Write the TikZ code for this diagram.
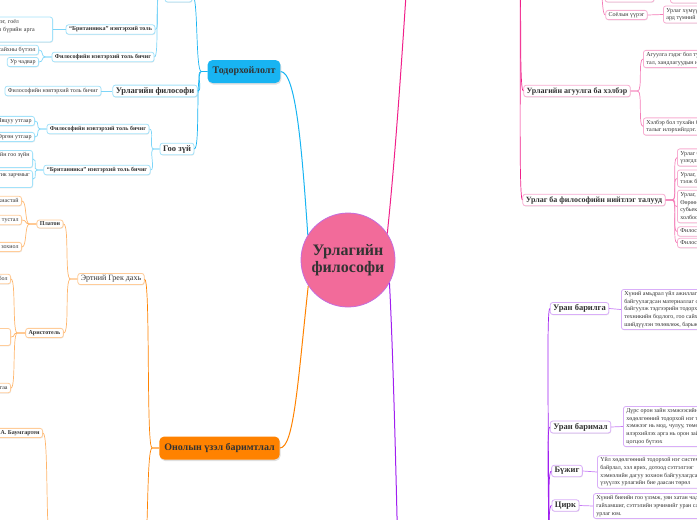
\documentclass[tikz,border=0pt]{standalone}
\usepackage{fontspec}
\setmainfont{Liberation Serif}
\usetikzlibrary{shadows}
\definecolor{testo}{HTML}{333333}
\definecolor{rosacerchio}{HTML}{F26B9A}
\definecolor{bordocerchio}{HTML}{C46BDD}
\definecolor{blu}{HTML}{18B4F2}
\definecolor{bluchiaro}{HTML}{7DD5F8}
\definecolor{blubordo}{HTML}{A3E2FA}
\definecolor{arancio}{HTML}{FF8200}
\definecolor{aranciochiaro}{HTML}{FFB56B}
\definecolor{aranciobordo}{HTML}{FFCC99}
\definecolor{rosa}{HTML}{F0208A}
\definecolor{rosachiaro}{HTML}{F47DB8}
\definecolor{rosabordo}{HTML}{F8AED2}
\definecolor{viola}{HTML}{A01EF0}
\definecolor{violachiaro}{HTML}{C77CF5}
\definecolor{violabordo}{HTML}{D9AEF8}
\tikzset{
  centro/.style={circle, fill=rosacerchio, draw=bordocerchio, line width=0.8pt, minimum size=94pt, inner sep=0pt, align=center, text=testo, font=\bfseries\fontsize{16}{17}\selectfont},
  tema/.style={fill=#1, rounded corners=5pt, minimum height=23pt, inner xsep=5pt, text=testo, font=\bfseries\fontsize{10}{12}\selectfont, drop shadow={shadow xshift=0.8pt, shadow yshift=-1.5pt, opacity=0.25}},
  scatola/.style={draw=#1, fill=white, rounded corners=2.5pt, line width=0.8pt, text=testo, inner xsep=3pt, inner ysep=2pt, drop shadow={shadow xshift=0.5pt, shadow yshift=-0.8pt, opacity=0.18}},
  grande/.style={font=\bfseries\fontsize{8.5}{10}\selectfont},
  medio/.style={font=\bfseries\fontsize{6}{7}\selectfont},
  foglia/.style={font=\fontsize{6}{7.7}\selectfont, align=left},
  legame/.style={draw=#1, line width=0.7pt},
}
\begin{document}
\begin{tikzpicture}[x=1pt,y=-1pt]
    \useasboundingbox (0,0) rectangle (697,520);
    \clip (0,0) rectangle (697,520);
    %nodo centrale
    \node[centro] (hub) at (348,260) {Урлагийн\\философи};
    %ramo blu
    \node[tema=blu] (todor) at (244,71.5) {Тодорхойлолт};
    \node[scatola=blubordo, minimum width=27pt, minimum height=14pt] (bluetop) at (178.5,-5) {};
    \node[scatola=blubordo, medio] (britA) at (110.5,29.5) {“Британника” нэвтэрхий толь};
    \node[scatola=blubordo, foglia, text width=96pt, anchor=east] (britAL) at (53,29.5) {Ур чадварын бүтээг, гоёл\\чимэглэл ба төрөл бүрийн арга\\ухаан.};
    \node[scatola=blubordo, medio] (filA) at (103,57) {Философийн нэвтэрхий толь бичиг};
    \node[scatola=blubordo, foglia, anchor=east] (filAL1) at (39,50) {Гоо сайхны бүтээл};
    \node[scatola=blubordo, foglia, anchor=east] (filAL2) at (39,62) {Ур чадвар};
    \node[scatola=blubordo, grande] (urfil) at (155,91) {Урлагийн философи};
    \node[scatola=blubordo, foglia] (urfilL) at (53,91) {Философийн нэвтэрхий толь бичиг};
    \node[scatola=blubordo, grande] (gooz) at (177,149) {Гоо зүй};
    \node[scatola=blubordo, medio] (filB) at (98,129) {Философийн нэвтэрхий толь бичиг};
    \node[scatola=blubordo, foglia, anchor=east] (filBL1) at (35,121) {Явцуу утгаар};
    \node[scatola=blubordo, foglia, anchor=east] (filBL2) at (35,137) {Өргөн утгаар};
    \node[scatola=blubordo, medio] (britB) at (97,170) {“Британника” нэвтэрхий толь бичиг};
    \node[scatola=blubordo, foglia, anchor=east] (britBL1) at (33,159) {Байгаль, урлагийн гоо зүйн\\асуудал};
    \node[scatola=blubordo, foglia, anchor=east] (britBL2) at (33,179) {Гоо зүйн критик зарчмыг\\судалдаг};
    %ramo arancio
    \node[tema=arancio] (onol) at (219.5,448) {Онолын үзэл баримтлал};
    \node[scatola=aranciobordo, font=\fontsize{8}{10}\selectfont] (ertn) at (111,279) {Эртний Грек дахь};
    \node[scatola=aranciobordo, medio] (platon) at (50,224) {Платон};
    \node[scatola=aranciobordo, foglia, anchor=east] (platL1) at (22,201) {Дууриамал шинжтэй, хиастай};
    \node[scatola=aranciobordo, foglia, anchor=east] (platL2) at (22,220) {Урлаг нь бурхны тустал};
    \node[scatola=aranciobordo, foglia, anchor=east] (platL3) at (22,247) {“Төр” зохиол};
    \node[scatola=aranciobordo, medio] (arist) at (44.5,333) {Аристотель};
    \node[scatola=aranciobordo, foglia, anchor=east] (aristL1) at (11,279) {Урлаг бол};
    \node[scatola=aranciobordo, foglia, text width=70pt, anchor=east] (aristL2) at (11,337) {Дуурайх нь\\төрөлх чанар};
    \node[scatola=aranciobordo, foglia, anchor=east] (aristL3) at (11,388) {Урлагийн ангилал ба ажиллагаа};
    \node[scatola=aranciobordo, medio, anchor=east] (baum) at (43,433) {Г.А. Баумгартен};
    \coordinate (aranB) at (143,560);
    \coordinate (baumj) at (51,545);
    %ramo rosa
    \coordinate (rosatop) at (407,-20);
    \coordinate (rosaj) at (518,-40);
    \coordinate (rosaB) at (598,-40);
    \node[scatola=rosabordo, minimum width=49pt, minimum height=14pt] (rosaT1) at (629.5,-5) {};
    \node[scatola=rosabordo, minimum width=40pt, minimum height=16pt, anchor=west] (rosaT2) at (670,-5) {};
    \node[scatola=rosabordo, foglia] (soyol) at (626.5,15) {Соёлын үүрэг};
    \node[scatola=rosabordo, foglia, anchor=west] (soyolL) at (663,14.5) {Урлаг хүмүүсийн оюун санааг\\ард түмний соёлыг хөгжүүлдэг};
    \node[scatola=rosabordo, font=\bfseries\fontsize{8}{10}\selectfont] (agu) at (577,91) {Урлагийн агуулга ба хэлбэр};
    \node[scatola=rosabordo, foglia, anchor=west] (aguL1) at (643,59) {Агуулга гэдэг бол тухайн бүтээлийн дотоод\\тал, хандлагуудын нэгдэл};
    \node[scatola=rosabordo, foglia, anchor=west] (aguL2) at (643,126.5) {Хэлбэр бол тухайн бүтээлийн гадаад\\талыг илэрхийлдэг.};
    \node[scatola=rosabordo, font=\bfseries\fontsize{8}{10}\selectfont] (nii) at (594,200) {Урлаг ба философийн нийтлэг талууд};
    \node[scatola=rosabordo, foglia, anchor=west] (niiL1) at (677,157.5) {Урлаг ба философи нь нийгмийн\\үзэгдлийг тусгадаг};
    \node[scatola=rosabordo, foglia, anchor=west] (niiL2) at (677,178.5) {Урлаг, философи хоёулаа хүрээгээ\\тэлж байдаг};
    \node[scatola=rosabordo, foglia, anchor=west] (niiL3) at (677,206.5) {Урлаг, философи нь\\Өөрөө ертөнцийг үзэх үзэл\\субьект, объектын\\холбоог илэрхийлдэг};
    \node[scatola=rosabordo, foglia, anchor=west] (niiL4) at (677,231.5) {Философи нь ухаалаг};
    \node[scatola=rosabordo, foglia, anchor=west] (niiL5) at (677,243) {Философи нь онолын};
    %ramo viola
    \coordinate (violabot) at (398,560);
    \coordinate (violaj) at (546,560);
    \node[scatola=violabordo, grande] (barilga) at (579.5,308.5) {Уран барилга};
    \node[scatola=violabordo, foglia, anchor=west] (barilgaL) at (621,309.5) {Хүний амьдрал үйл ажиллагаанд\\байгуулагдсан материаллаг орчин\\байгуулж тэдгээрийн тодорхой\\техникийн бодлого, гоо сайхны\\шийдүүлэн төлөвлөж, барьж};
    \node[scatola=violabordo, grande] (barimal) at (580.5,427) {Уран баримал};
    \node[scatola=violabordo, foglia, anchor=west] (barimalL) at (623,426.5) {Дүрс орон зайн хэмжээсийн\\хөдөлгөөний тодорхой нэг түвшин\\хэмжээг нь мод, чулуу, төмөр\\илэрхийлэх арга нь орон зайн\\цогцоо бүтээх};
    \node[scatola=violabordo, grande] (buj) at (567,471) {Бүжиг};
    \node[scatola=violabordo, foglia, anchor=west] (bujL) at (597,472) {Үйл хөдөлгөөний тодорхой нэг системийн\\байрлал, хэл ярих, дотоод сэтгэлгээг\\хэмнэлийн дагуу зохион байгуулагдсан\\үзүүлэх урлагийн бие даасан төрөл};
    \node[scatola=violabordo, grande] (tsirk) at (565.5,505.5) {Цирк};
    \node[scatola=violabordo, foglia, anchor=west] (tsirkL) at (593,506) {Хүний биеийн гоо үзэмж, уян хатан чадвар\\гайхамшиг, сэтгэлийн эрчимийг уран сайхнаар\\урлаг юм.};
    %legami dal centro
    \draw[legame=blu, line width=1pt] (hub.148) .. controls (302,150) and (296,72) .. (todor.east);
    \draw[legame=arancio, line width=1pt] (hub.213) .. controls (298,380) and (294,448) .. (onol.east);
    \draw[legame=rosa, line width=1pt] (hub.34) .. controls (396,150) and (403,40) .. (rosatop);
    \draw[legame=viola, line width=1pt] (hub.331) .. controls (393,350) and (396,470) .. (violabot);
    %legami blu
    \draw[legame=blu] (todor.west) -- ++(-6,0) .. controls +(-6,0) and +(6,0) .. (bluetop.east);
    \draw[legame=blu] (todor.west) -- ++(-6,0) .. controls +(-6,0) and +(6,0) .. (urfil.east);
    \draw[legame=blu] (todor.west) -- ++(-6,0) .. controls +(-6,0) and +(6,0) .. (gooz.east);
    \draw[legame=bluchiaro] (bluetop.west) -- ++(-5,0) .. controls +(-5,0) and +(5,0) .. (britA.east);
    \draw[legame=bluchiaro] (bluetop.west) -- ++(-5,0) .. controls +(-5,0) and +(5,0) .. (filA.east);
    \draw[legame=bluchiaro] (britA.west) -- (britAL.east);
    \draw[legame=bluchiaro] (filA.west) -- ++(-6,0) .. controls +(-5,0) and +(5,0) .. (filAL1.east);
    \draw[legame=bluchiaro] (filA.west) -- ++(-6,0) .. controls +(-5,0) and +(5,0) .. (filAL2.east);
    \draw[legame=bluchiaro] (urfil.west) -- (urfilL.east);
    \draw[legame=bluchiaro] (gooz.west) -- ++(-6,0) .. controls +(-5,0) and +(5,0) .. (filB.east);
    \draw[legame=bluchiaro] (gooz.west) -- ++(-6,0) .. controls +(-5,0) and +(5,0) .. (britB.east);
    \draw[legame=bluchiaro] (filB.west) -- ++(-6,0) .. controls +(-5,0) and +(5,0) .. (filBL1.east);
    \draw[legame=bluchiaro] (filB.west) -- ++(-6,0) .. controls +(-5,0) and +(5,0) .. (filBL2.east);
    \draw[legame=bluchiaro] (britB.west) -- ++(-6,0) .. controls +(-5,0) and +(5,0) .. (britBL1.east);
    \draw[legame=bluchiaro] (britB.west) -- ++(-6,0) .. controls +(-5,0) and +(5,0) .. (britBL2.east);
    %legami arancio
    \draw[legame=arancio] (onol.west) -- ++(-7,0) .. controls +(-6,0) and +(6,0) .. (ertn.east);
    \draw[legame=arancio] (onol.west) -- ++(-7,0) .. controls +(-6,0) and +(6,0) .. (aranB);
    \draw[legame=aranciochiaro] (ertn.west) -- ++(-7,0) .. controls +(-6,0) and +(6,0) .. (platon.east);
    \draw[legame=aranciochiaro] (ertn.west) -- ++(-7,0) .. controls +(-6,0) and +(6,0) .. (arist.east);
    \draw[legame=aranciochiaro] (platon.west) -- ++(-7,0) .. controls +(-5,0) and +(5,0) .. (platL1.east);
    \draw[legame=aranciochiaro] (platon.west) -- ++(-7,0) .. controls +(-5,0) and +(5,0) .. (platL2.east);
    \draw[legame=aranciochiaro] (platon.west) -- ++(-7,0) .. controls +(-5,0) and +(5,0) .. (platL3.east);
    \draw[legame=aranciochiaro] (arist.west) -- ++(-8,0) .. controls +(-5,0) and +(5,0) .. (aristL1.east);
    \draw[legame=aranciochiaro] (arist.west) -- ++(-8,0) .. controls +(-5,0) and +(5,0) .. (aristL2.east);
    \draw[legame=aranciochiaro] (arist.west) -- ++(-8,0) .. controls +(-5,0) and +(5,0) .. (aristL3.east);
    \draw[legame=aranciochiaro] (baumj) .. controls +(-6,0) and +(6,0) .. (baum.east);
    %legami rosa
    \draw[legame=rosa] (rosaj) .. controls +(5,0) and +(-5,0) .. (agu.west);
    \draw[legame=rosa] (rosaj) .. controls +(5,0) and +(-5,0) .. (nii.west);
    \draw[legame=rosachiaro] (rosaB) .. controls +(5,0) and +(-5,0) .. (rosaT1.west);
    \draw[legame=rosachiaro] (rosaB) .. controls +(5,0) and +(-5,0) .. (soyol.west);
    \draw[legame=rosachiaro] (rosaT1.east) -- (rosaT2.west);
    \draw[legame=rosachiaro] (soyol.east) -- (soyolL.west);
    \draw[legame=rosachiaro] (agu.east) -- ++(7,0) .. controls +(5,0) and +(-5,0) .. (aguL1.west);
    \draw[legame=rosachiaro] (agu.east) -- ++(7,0) .. controls +(5,0) and +(-5,0) .. (aguL2.west);
    \draw[legame=rosachiaro] (nii.east) -- ++(7,0) .. controls +(5,0) and +(-5,0) .. (niiL1.west);
    \draw[legame=rosachiaro] (nii.east) -- ++(7,0) .. controls +(5,0) and +(-5,0) .. (niiL2.west);
    \draw[legame=rosachiaro] (nii.east) -- ++(7,0) .. controls +(5,0) and +(-5,0) .. (niiL3.west);
    \draw[legame=rosachiaro] (nii.east) -- ++(7,0) .. controls +(5,0) and +(-5,0) .. (niiL4.west);
    \draw[legame=rosachiaro] (nii.east) -- ++(7,0) .. controls +(5,0) and +(-5,0) .. (niiL5.west);
    %legami viola
    \draw[legame=viola] (violaj) .. controls +(6,0) and +(-5,0) .. (barilga.west);
    \draw[legame=viola] (violaj) .. controls +(6,0) and +(-5,0) .. (barimal.west);
    \draw[legame=viola] (violaj) .. controls +(6,0) and +(-5,0) .. (buj.west);
    \draw[legame=viola] (violaj) .. controls +(6,0) and +(-5,0) .. (tsirk.west);
    \draw[legame=violachiaro] (barilga.east) -- (barilgaL.west);
    \draw[legame=violachiaro] (barimal.east) -- (barimalL.west);
    \draw[legame=violachiaro] (buj.east) -- (bujL.west);
    \draw[legame=violachiaro] (tsirk.east) -- (tsirkL.west);
\end{tikzpicture}
\end{document}
